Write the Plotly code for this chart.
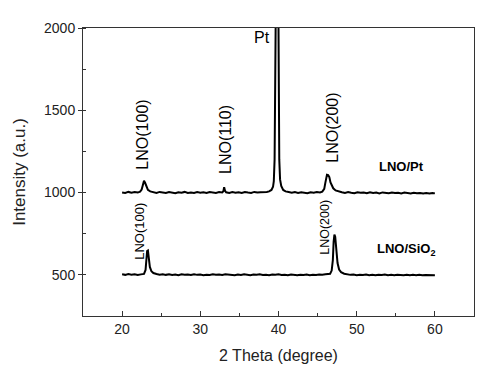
import plotly.graph_objects as go

# LNO/Pt pattern (2-theta in degrees, intensity in a.u.)
pt_theta = [20.0, 20.4, 20.8, 21.2, 21.6, 22.0, 22.3, 22.5, 22.65, 22.8, 22.95, 23.1, 23.3, 23.6,
            24.0, 24.4, 24.8, 25.2, 25.6, 26.0, 26.4, 26.8, 27.2, 27.6, 28.0, 28.4, 28.8, 29.2,
            29.6, 30.0, 30.4, 30.8, 31.2, 31.6, 32.0, 32.4, 32.8, 32.95, 33.05, 33.15, 33.3, 33.7,
            34.1, 34.5, 34.9, 35.3, 35.7, 36.1, 36.5, 36.9, 37.3, 37.7, 38.1, 38.5, 38.8, 39.1,
            39.3, 39.4, 39.5, 39.55, 39.6, 39.8, 40.0, 40.05, 40.1, 40.2, 40.35, 40.6, 40.9, 41.3,
            41.7, 42.1, 42.5, 42.9, 43.3, 43.7, 44.1, 44.5, 44.9, 45.3, 45.6, 45.85, 46.0, 46.1,
            46.2, 46.35, 46.5, 46.65, 46.8, 47.0, 47.3, 47.7, 48.1, 48.5, 48.9, 49.3, 49.7, 50.1,
            50.5, 50.9, 51.3, 51.7, 52.1, 52.5, 52.9, 53.3, 53.7, 54.1, 54.5, 54.9, 55.3, 55.7,
            56.1, 56.5, 56.9, 57.3, 57.7, 58.1, 58.5, 58.9, 59.3, 59.7, 60.0]
pt_intensity = [1001, 998, 1004, 999, 1003, 1000, 1006, 1018, 1045, 1072, 1058, 1034, 1016, 1007,
                1002, 998, 1004, 1000, 997, 1003, 1001, 996, 1002, 999, 1004, 998, 1001, 997,
                1003, 999, 1002, 997, 1003, 1000, 998, 1003, 1001, 1008, 1032, 1012, 1002, 998,
                1003, 999, 1002, 997, 1003, 1000, 998, 1004, 1000, 1002, 1001, 1004, 1007, 1016,
                1035, 1070, 1200, 1500, 2000, 3000, 2000, 1500, 1200, 1080, 1040, 1016, 1007, 1003,
                999, 1003, 998, 1002, 1000, 996, 1002, 999, 1003, 1001, 1006, 1022, 1062, 1100,
                1108, 1106, 1094, 1062, 1042, 1026, 1013, 1006, 1002, 998, 1003, 999, 996, 1002,
                999, 1001, 996, 1002, 998, 1000, 995, 1001, 998, 996, 1001, 997, 999, 995,
                1000, 997, 994, 999, 996, 998, 994, 997, 995, 998, 995]

# LNO/SiO2 pattern
sio2_theta = [20.0, 20.4, 20.8, 21.2, 21.6, 22.0, 22.4, 22.8, 23.0, 23.1, 23.2, 23.3, 23.4, 23.55,
              23.75, 24.0, 24.4, 24.8, 25.2, 25.6, 26.0, 26.4, 26.8, 27.2, 27.6, 28.0, 28.4, 28.8,
              29.2, 29.6, 30.0, 30.4, 30.8, 31.2, 31.6, 32.0, 32.4, 32.8, 33.2, 33.6, 34.0, 34.4,
              34.8, 35.2, 35.6, 36.0, 36.4, 36.8, 37.2, 37.6, 38.0, 38.4, 38.8, 39.2, 39.6, 40.0,
              40.4, 40.8, 41.2, 41.6, 42.0, 42.4, 42.8, 43.2, 43.6, 44.0, 44.4, 44.8, 45.2, 45.6,
              46.0, 46.4, 46.6, 46.8, 46.95, 47.05, 47.15, 47.25, 47.4, 47.55, 47.75, 48.0, 48.4,
              48.8, 49.2, 49.6, 50.0, 50.4, 50.8, 51.2, 51.6, 52.0, 52.4, 52.8, 53.2, 53.6, 54.0,
              54.4, 54.8, 55.2, 55.6, 56.0, 56.4, 56.8, 57.2, 57.6, 58.0, 58.4, 58.8, 59.2, 59.6, 60.0]
sio2_intensity = [503, 500, 505, 501, 504, 499, 503, 506, 530, 590, 645, 648, 600, 548,
                  522, 511, 505, 501, 504, 500, 503, 499, 502, 498, 503, 500, 502, 499,
                  504, 500, 502, 498, 501, 499, 503, 500, 502, 499, 503, 500, 501, 498,
                  502, 499, 503, 500, 498, 502, 500, 503, 499, 501, 498, 502, 500, 503,
                  499, 501, 498, 502, 500, 497, 501, 499, 502, 498, 501, 499, 502, 500,
                  503, 504, 507, 526, 590, 700, 745, 732, 642, 572, 532, 516, 507,
                  503, 500, 502, 498, 501, 499, 502, 498, 500, 497, 501, 499, 502, 498,
                  500, 497, 501, 499, 498, 501, 497, 500, 498, 501, 497, 499, 498, 500, 498]

# Peak labels: text, x, y, font size, angle
label_texts = ["LNO(100)", "LNO(110)", "Pt", "LNO(200)", "LNO(100)", "LNO(200)"]
label_x = [22.63, 33.19, 37.93, 46.9, 22.12, 45.96]
label_y = [1350, 1321, 1945, 1397, 766, 787]
label_size = [16, 16, 16, 16, 13, 12.5]
label_angle = [-90, -90, 0, -90, -90, -90]

series_names = ["LNO/Pt", "LNO/SiO<sub>2</sub>"]
series_label_x = [55.73, 56.4]
series_label_y = [1159, 655]

FONT = "Liberation Sans, Arial, sans-serif"

fig = go.Figure()
fig.add_trace(go.Scatter(x=pt_theta, y=pt_intensity, mode="lines",
                         line=dict(color="black", width=2), showlegend=False))
fig.add_trace(go.Scatter(x=sio2_theta, y=sio2_intensity, mode="lines",
                         line=dict(color="black", width=2), showlegend=False))

for t, x, y, s, a in zip(label_texts, label_x, label_y, label_size, label_angle):
    fig.add_annotation(x=x, y=y, xref="x", yref="y", text=t, showarrow=False,
                       textangle=a, font=dict(family=FONT, size=s, color="black"))

for t, x, y in zip(series_names, series_label_x, series_label_y):
    fig.add_annotation(x=x, y=y, xref="x", yref="y", text="<b>" + t + "</b>", showarrow=False,
                       font=dict(family=FONT, size=13, color="black"))

fig.update_layout(
    width=499, height=365,
    margin=dict(l=83, r=25, t=28, b=49),
    paper_bgcolor="white", plot_bgcolor="white",
    font=dict(family=FONT, color="#222"),
    xaxis=dict(range=[15, 65], tick0=0, dtick=10, ticks="inside", ticklen=5, tickwidth=1,
               tickcolor="#333", showline=True, linecolor="#333", linewidth=1, mirror=True,
               showgrid=False, zeroline=False, tickfont=dict(size=14, color="#222"),
               automargin=False,
               minor=dict(dtick=5, ticks="inside", ticklen=3, tickcolor="#333"),
               title=dict(text="2 Theta (degree)", font=dict(size=16, color="#222"), standoff=14)),
    yaxis=dict(range=[250, 2000], tick0=0, dtick=500, ticks="outside", ticklen=4, tickwidth=1,
               tickcolor="#333", showline=True, linecolor="#333", linewidth=1, mirror=True,
               showgrid=False, zeroline=False, tickfont=dict(size=14, color="#222"),
               automargin=False,
               minor=dict(dtick=250, ticks="inside", ticklen=3, tickcolor="#333"),
               title=dict(text="Intensity (a.u.)", font=dict(size=17, color="#222"), standoff=14)),
)

fig.write_html("out.html")
